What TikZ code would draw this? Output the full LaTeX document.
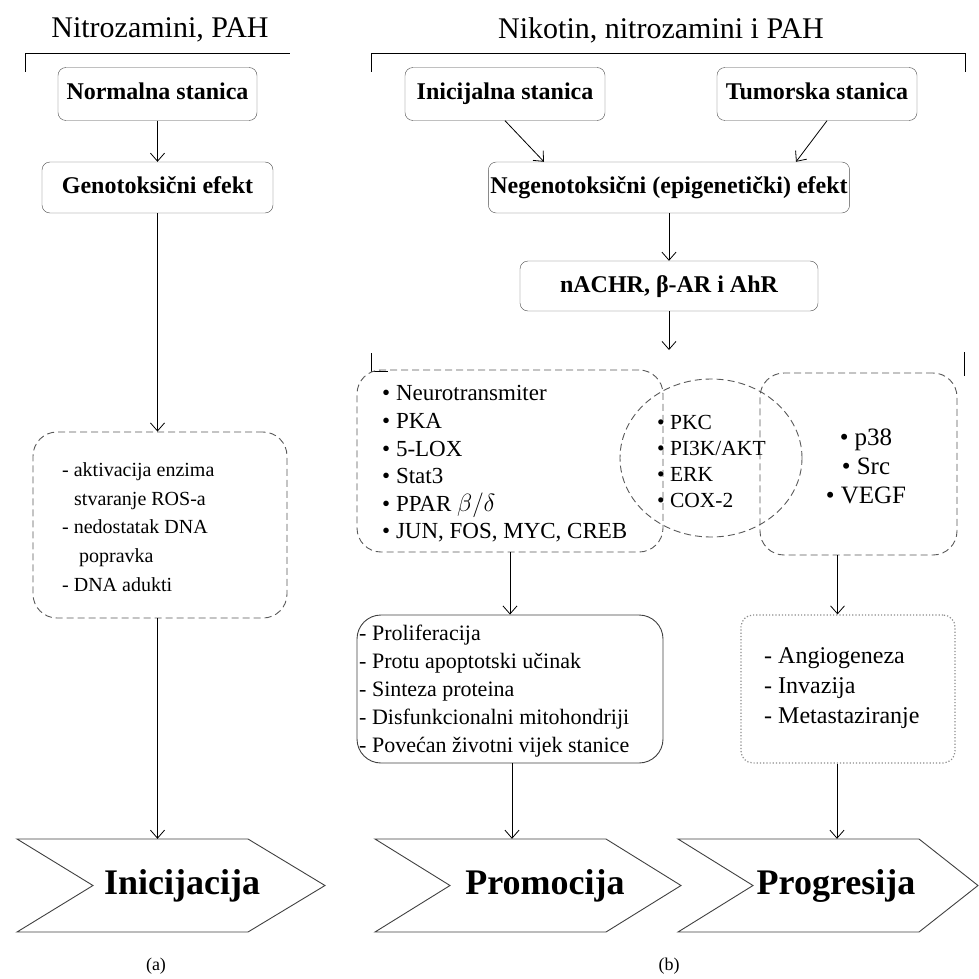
\documentclass[tikz,border=0pt]{standalone}
\usepackage{xcolor}
\usepackage{fontspec}
\setmainfont{Liberation Serif}
\usepackage{tikz}
\usetikzlibrary{shapes.geometric,arrows.meta}

\begin{document}
\begin{tikzpicture}[x=1pt,y=-1pt]
	\tikzstyle{title} = [font=\fontsize{30}{34}\selectfont]
	\tikzstyle{cell} = [draw=black!70, rounded corners=8pt, font=\bfseries\fontsize{24}{28}\selectfont, inner sep=2pt, text height=17pt, text depth=5pt]
	\tikzstyle{group} = [draw=black!65, line width=0.9pt, dash pattern=on 7pt off 4pt, rounded corners=24pt]
	\tikzstyle{items} = [align=left, inner sep=0pt]
	\tikzstyle{stage} = [font=\bfseries\fontsize{36}{40}\selectfont, minimum height=93pt]
	\tikzstyle{chevron} = [draw=black!75, line width=0.9pt]
	\tikzset{edge/.style = {-{Straight Barb[length=8pt,width=14pt]}, line width=0.8pt}}

	\useasboundingbox (0,0) rectangle (979,979);

	% (a)
	\node[title](left title) at (160,30) {Nitrozamini, PAH};
	\draw (25,72) -- (25,53) -- (290,53);
	\node[cell, minimum width=199pt, minimum height=53pt](normal) at (157.5,94) {Normalna stanica};
	\node[cell, minimum width=231pt, minimum height=51pt](geno) at (157.5,187.5) {Genotoksični efekt};
	\node[group, minimum width=254pt, minimum height=186pt](damage) at (160,525) {};
	\node[items, anchor=west, font=\fontsize{20}{28.7}\selectfont](damage list) at (62,527)
		{- aktivacija enzima\\\hspace{12pt}stvaranje ROS-a\\- nedostatak DNA\\\hspace{17pt}popravka\\- DNA adukti};
	\draw[edge](normal) to (geno);
	\draw[edge](geno) -- (geno |- damage.north);

	\draw[chevron] (17,839) -- (248,839) -- (325,885.5) -- (248,932) -- (17,932) -- (93,885.5) -- cycle;
	\node[stage](init) at (182,885.5) {Inicijacija};
	\draw[edge](damage.south -| geno) -- (geno |- init.north);

	% (b)
	\node[title](right title) at (661,30) {Nikotin, nitrozamini i PAH};
	\draw (371,72) -- (371,53) -- (965,53) -- (965,72);
	\node[cell, minimum width=200pt, minimum height=53pt](initial) at (505,94) {Inicijalna stanica};
	\node[cell, minimum width=200pt, minimum height=53pt](tumor) at (817,94) {Tumorska stanica};
	\node[cell, minimum width=360pt, minimum height=51pt](epi) at (669,187.5) {Negenotoksični (epigenetički) efekt};
	\node[cell, minimum width=298pt, minimum height=50pt](receptors) at (669,286) {nACHR, β-AR i AhR};
	\draw[edge](initial.south) to ([xshift=-125pt]epi.north);
	\draw[edge]([xshift=10pt]tumor.south) to ([xshift=127pt]epi.north);
	\draw[edge](epi) to (receptors);
	\coordinate (fork) at (669,350);
	\draw[edge](receptors) to (fork);
	\draw (371,353) -- (371,371) -- (388,371);
	\draw (964,352) -- (964,376);

	\node[group, minimum width=306pt, minimum height=182pt](signals) at (510,461) {};
	\node[items, anchor=west, font=\fontsize{23}{27.6}\selectfont](signal list) at (382,464)
		{\textbullet\ Neurotransmiter\\\textbullet\ PKA\\\textbullet\ 5-LOX\\\textbullet\ Stat3\\\textbullet\ PPAR $\beta/\delta$\\\textbullet\ JUN, FOS, MYC, CREB};
	\node[ellipse, draw=black!65, line width=0.9pt, dash pattern=on 7pt off 4pt, minimum width=182pt, minimum height=158pt](shared) at (711,458) {};
	\node[items, anchor=west, font=\fontsize{21.5}{26}\selectfont](shared list) at (657,461)
		{\textbullet\ PKC\\\textbullet\ PI3K/AKT\\\textbullet\ ERK\\\textbullet\ COX-2};
	\node[group, minimum width=197pt, minimum height=182pt](invasive) at (858.5,464) {};
	\node[items, align=center, font=\fontsize{25}{29}\selectfont](invasive list) at (866,466)
		{\textbullet\ p38\\\textbullet\ Src\\\textbullet\ VEGF};

	\node[draw=black!75, line width=0.9pt, rounded corners=24pt, minimum width=306pt, minimum height=148pt](effects) at (510,689) {};
	\node[items, anchor=west, font=\fontsize{22}{28}\selectfont](effect list) at (359,691.5)
		{- Proliferacija\\- Protu apoptotski učinak\\- Sinteza proteina\\- Disfunkcionalni mitohondriji\\- Povećan životni vijek stanice};
	\node[draw=black!45, dotted, line width=1.2pt, rounded corners=12pt, minimum width=214pt, minimum height=148pt](spread) at (848,689) {};
	\node[items, anchor=west, font=\fontsize{24}{30}\selectfont](spread list) at (764,688)
		{- Angiogeneza\\- Invazija\\- Metastaziranje};
	\draw[edge](signals) to (effects);
	\draw[edge]([xshift=-21pt]invasive.south) -- ([xshift=-21pt]invasive.south |- spread.north);

	\draw[chevron] (375,839) -- (606,839) -- (681,885.5) -- (606,932) -- (375,932) -- (450,885.5) -- cycle;
	\draw[chevron] (678,839) -- (919,839) -- (978,885.5) -- (919,932) -- (678,932) -- (753,885.5) -- cycle;
	\node[stage](promotion) at (545,885.5) {Promocija};
	\node[stage](progression) at (836,885.5) {Progresija};
	\draw[edge]([xshift=2pt]effects.south) -- ([xshift=2pt]effects.south |- promotion.north);
	\draw[edge]([xshift=-11pt]spread.south) -- ([xshift=-11pt]spread.south |- progression.north);

	\node[font=\fontsize{18}{20}\selectfont](part a) at (156,966) {(a)};
	\node[font=\fontsize{18}{20}\selectfont](part b) at (669,966) {(b)};
\end{tikzpicture}
\end{document}
